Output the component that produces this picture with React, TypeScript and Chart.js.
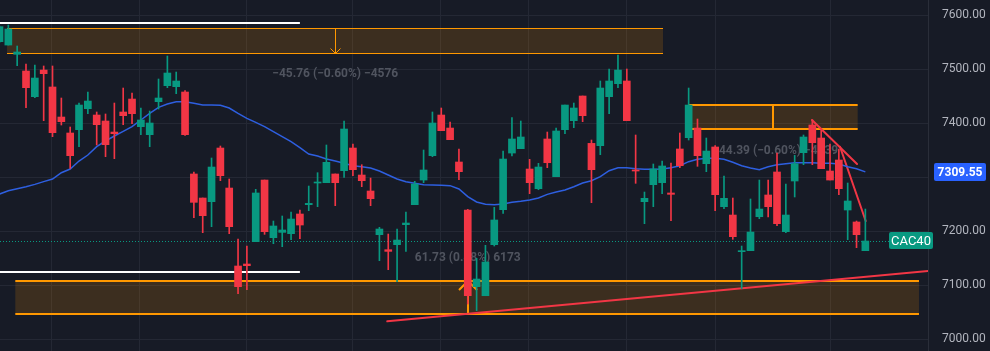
import { useEffect, useRef } from "react";
import { Chart, registerables } from "chart.js";

Chart.register(...registerables);

// ---------- DATA ----------
const symbol = "CAC40";

const opens = [
  7550.6, 7544.4, 7527.2, 7496.3, 7448.8, 7498.1, 7466.7, 7411.1, 7381.5, 7387.7,
  7426.5, 7414.8, 7403.7, 7383.3, 7420.4, 7444.4, 7393.2, 7378.4, 7439.5, 7469.1,
  7467.3, 7457.4, 7305.6, 7261.1, 7254.3, 7353.7, 7279.6, 7135.2, 7138.9, 7180.3,
  7294.4, 7187.7, 7197.5, 7195.1, 7231.5, 7248.8, 7288.9, 7289.5, 7305.6, 7311.7,
  7353.7, 7303.7, 7274.1, 7193.2, 7165.4, 7174.7, 7211.7, 7248.8, 7294.4, 7339.5,
  7414.8, 7390.7, 7327.8, 7238.9, 7096.9, 7080.2, 7174.7, 7239.5, 7344.4, 7352.5,
  7314.8, 7278.4, 7370.4, 7300.6, 7387.7, 7404.3, 7450.0, 7362.3, 7358.0, 7448.8,
  7472.8, 7477.8, 7313.0, 7254.3, 7285.8, 7289.5, 7270.4, 7351.9, 7372.8, 7390.7,
  7324.7, 7355.6, 7245.1, 7229.6, 7161.7, 7163.6, 7226.5, 7266.7, 7309.3, 7198.8,
  7292.6, 7345.1, 7396.3, 7372.2, 7311.1, 7331.5, 7238.9, 7216.7, 7163.6,
];

const highs = [
  7579.6, 7581.5, 7542.6, 7509.3, 7507.4, 7505.6, 7505.6, 7446.3, 7392.6, 7437.0,
  7457.4, 7420.4, 7416.7, 7437.0, 7464.8, 7455.6, 7427.8, 7422.2, 7481.5, 7524.1,
  7494.4, 7459.9, 7309.3, 7261.1, 7335.2, 7357.4, 7296.3, 7185.2, 7172.2, 7277.2,
  7294.4, 7218.5, 7227.8, 7235.2, 7238.9, 7283.3, 7308.0, 7359.3, 7305.6, 7403.7,
  7361.1, 7322.8, 7298.1, 7206.8, 7194.4, 7203.7, 7235.2, 7292.0, 7350.0, 7420.4,
  7427.8, 7401.9, 7351.9, 7240.1, 7149.4, 7173.5, 7243.8, 7348.1, 7409.9, 7403.7,
  7332.7, 7325.3, 7383.3, 7390.7, 7433.3, 7437.0, 7450.0, 7368.5, 7477.8, 7500.0,
  7525.9, 7500.0, 7377.8, 7272.2, 7324.1, 7329.6, 7325.9, 7381.5, 7464.8, 7407.4,
  7372.2, 7358.0, 7301.9, 7261.1, 7172.2, 7259.3, 7294.4, 7294.4, 7344.4, 7287.0,
  7340.1, 7377.8, 7405.6, 7387.0, 7361.1, 7351.9, 7288.9, 7218.5, 7240.7,
];

const lows = [
  7549.4, 7544.4, 7506.2, 7428.4, 7446.9, 7404.3, 7374.7, 7396.3, 7316.0, 7356.2,
  7417.3, 7359.3, 7337.7, 7334.0, 7396.9, 7398.8, 7378.4, 7356.2, 7425.9, 7465.4,
  7454.3, 7377.2, 7224.7, 7196.9, 7208.0, 7293.2, 7195.1, 7084.0, 7091.4, 7180.3,
  7193.8, 7176.5, 7171.0, 7184.0, 7185.8, 7237.7, 7245.1, 7289.5, 7246.9, 7299.4,
  7302.5, 7282.1, 7246.9, 7145.1, 7128.4, 7106.2, 7162.3, 7248.8, 7289.5, 7337.7,
  7385.8, 7369.1, 7295.1, 7064.8, 7052.5, 7080.2, 7172.2, 7232.7, 7338.9, 7352.5,
  7269.1, 7276.5, 7317.3, 7300.6, 7380.2, 7391.4, 7402.5, 7252.5, 7341.4, 7417.3,
  7465.4, 7404.3, 7288.3, 7213.6, 7245.1, 7269.1, 7219.1, 7317.3, 7368.5, 7319.8,
  7309.9, 7237.7, 7241.4, 7184.6, 7093.2, 7163.6, 7222.8, 7225.9, 7209.9, 7196.9,
  7263.0, 7322.8, 7322.8, 7315.4, 7294.4, 7267.3, 7184.0, 7169.1, 7163.6,
];

const closes = [
  7578.4, 7574.1, 7531.5, 7465.4, 7483.3, 7491.4, 7382.1, 7402.5, 7339.5, 7433.3,
  7440.7, 7396.9, 7359.9, 7380.2, 7413.6, 7417.3, 7405.6, 7400.0, 7446.3, 7492.6,
  7477.8, 7378.4, 7253.1, 7228.4, 7318.5, 7302.5, 7208.0, 7096.9, 7135.8, 7270.4,
  7198.8, 7209.3, 7201.9, 7222.2, 7211.1, 7251.2, 7290.7, 7327.2, 7289.5, 7388.9,
  7313.6, 7293.2, 7259.9, 7203.7, 7162.3, 7183.3, 7214.8, 7287.0, 7313.0, 7400.0,
  7385.8, 7369.1, 7309.9, 7080.2, 7111.1, 7142.6, 7220.4, 7333.3, 7370.4, 7374.1,
  7289.5, 7318.5, 7326.5, 7385.2, 7433.3, 7427.8, 7413.6, 7313.6, 7464.8, 7477.8,
  7498.1, 7404.3, 7311.1, 7260.5, 7314.8, 7320.4, 7267.9, 7321.0, 7433.3, 7339.5,
  7348.1, 7267.3, 7260.5, 7189.5, 7163.6, 7198.1, 7240.7, 7245.1, 7213.6, 7229.6,
  7324.7, 7374.1, 7363.6, 7315.4, 7294.4, 7278.4, 7255.6, 7193.2, 7181.5,
];

const movingAverage = [
  7268.5, 7274.7, 7278.4, 7282.1, 7286.4, 7291.4, 7296.3, 7308.0, 7314.8, 7329.6,
  7340.7, 7356.2, 7366.7, 7375.9, 7384.6, 7393.2, 7405.6, 7417.9, 7429.0, 7435.2,
  7439.5, 7439.5, 7436.4, 7433.3, 7433.3, 7432.7, 7427.8, 7417.9, 7408.6, 7401.2,
  7393.2, 7384.0, 7374.7, 7365.4, 7354.3, 7342.6, 7338.9, 7333.3, 7329.6, 7325.3,
  7321.0, 7319.1, 7316.7, 7311.1, 7303.7, 7296.3, 7291.4, 7288.3, 7285.8, 7285.2,
  7284.6, 7284.0, 7277.8, 7263.6, 7253.7, 7249.4, 7248.8, 7250.0, 7253.1, 7254.9,
  7257.4, 7261.1, 7267.9, 7272.2, 7275.9, 7282.1, 7288.9, 7293.2, 7300.6, 7311.7,
  7317.3, 7317.3, 7315.4, 7314.2, 7314.2, 7314.8, 7317.3, 7321.0, 7328.4, 7332.7,
  7334.6, 7334.6, 7332.7, 7327.2, 7321.0, 7316.7, 7313.6, 7319.1, 7322.8, 7324.7,
  7326.5, 7326.5, 7326.5, 7325.3, 7325.3, 7324.1, 7319.1, 7315.4, 7309.55,
];

const priceTicks = [7000, 7100, 7200, 7300, 7400, 7500, 7600];
// time grid positions (in bar-index units)
const timeGrid = [5.94, 15.9, 27.9, 40.0, 49.97, 59.93, 71.0, 81.0, 94.1];

// drawings, in (bar index, price) units
const rangeBoxes = [
  { x0: 0.85, x1: 75.1, top: 7575.3, bottom: 7529.0, arrowX: 38.0, dir: "down", head: 5, lw: 1, label: "\u221245.76 (\u22120.60%) \u22124576", labelX: 38.0, labelPrice: 7490.7 },
  { x0: 77.96, x1: 97.13, top: 7433.3, bottom: 7388.9, arrowX: 87.55, dir: "down", head: 0, lw: 2, label: "\u221244.39 (\u22120.60%) \u22124439", labelX: 87.8, labelPrice: 7348.1 },
  { x0: 1.79, x1: 104.07, top: 7106.8, bottom: 7046.9, arrowX: 53.0, dir: "up", head: 9, lw: 2, label: "61.73 (0.88%) 6173", labelX: 53.0, labelPrice: 7150.0 },
];
const trendLines = [
  { x0: 43.89, p0: 7032.8, x1: 105.1, p1: 7125.9 },
  { x0: 91.96, p0: 7405.6, x1: 97.06, p1: 7324.1 },
  { x0: 95.13, p0: 7356.1, x1: 98.04, p1: 7218.5 },
];
const whiteLines = [
  { price: 7584.6, x0: -2, x1: 34.0 },
  { price: 7123.5, x0: -2, x1: 34.0 },
];

// ---------- STYLE ----------
const BG = "#171b26";
const GRID = "#242834";
const UP = "#089981";
const DOWN = "#f23645";
const MA_COLOR = "#2e5fe0";
const ORANGE = "#ff9800";
const BOX_FILL = "rgba(255,152,0,0.16)";
const LABEL_GRAY = "#50545f";
const AXIS_TEXT = "#b2b5be";
const FONT = "Roboto, 'Liberation Sans', sans-serif";

export default function App() {
  const ref = useRef<HTMLCanvasElement>(null);

  useEffect(() => {
    const canvas = ref.current;
    if (!canvas) return;
    const idx = opens.map((_, i) => i);
    const colors = idx.map((i) => (closes[i] >= opens[i] ? UP : DOWN));
    const lastClose = closes[closes.length - 1];
    const lastMA = movingAverage[movingAverage.length - 1];

    const overlay = {
      id: "overlay",
      beforeDraw(chart: any) {
        const { ctx, width, height } = chart;
        ctx.save();
        ctx.fillStyle = BG;
        ctx.fillRect(0, 0, width, height);
        ctx.restore();
      },
      beforeDatasetsDraw(chart: any) {
        const { ctx, chartArea: ca } = chart;
        const xs = chart.scales.x;
        const ys = chart.scales.y;
        const px = (v: number) => xs.getPixelForValue(v);
        const py = (v: number) => ys.getPixelForValue(v);
        const crisp = (v: number, lw: number) => (lw % 2 === 1 ? Math.round(v) + 0.5 : Math.round(v));
        const seg = (x0: number, y0: number, x1: number, y1: number) => {
          ctx.beginPath();
          ctx.moveTo(x0, y0);
          ctx.lineTo(x1, y1);
          ctx.stroke();
        };
        ctx.save();
        ctx.beginPath();
        ctx.rect(ca.left, ca.top, ca.right - ca.left, ca.bottom - ca.top);
        ctx.clip();

        // last price dotted line
        ctx.strokeStyle = UP;
        ctx.lineWidth = 1;
        ctx.setLineDash([1, 2]);
        const yl = crisp(py(lastClose), 1);
        seg(ca.left, yl, ca.right, yl);
        ctx.setLineDash([]);

        // white horizontal lines
        ctx.strokeStyle = "#ffffff";
        ctx.lineWidth = 2;
        for (const w of whiteLines) {
          const yy = Math.round(py(w.price));
          seg(px(w.x0), yy, px(w.x1), yy);
        }

        // range boxes
        for (const b of rangeBoxes) {
          const l = px(b.x0);
          const r = px(b.x1);
          const t = crisp(py(b.top), b.lw);
          const bt = crisp(py(b.bottom), b.lw);
          ctx.fillStyle = BOX_FILL;
          ctx.fillRect(l, t, r - l, bt - t);
          ctx.strokeStyle = ORANGE;
          ctx.lineWidth = b.lw;
          seg(l, t, r, t);
          seg(l, bt, r, bt);
          const ax = crisp(px(b.arrowX), b.lw);
          seg(ax, t, ax, bt);
          if (b.head > 0) {
            const h = b.head;
            ctx.beginPath();
            if (b.dir === "down") {
              ctx.moveTo(ax - h, bt - h);
              ctx.lineTo(ax, bt);
              ctx.lineTo(ax + h, bt - h);
            } else {
              ctx.moveTo(ax - h, t + h);
              ctx.lineTo(ax, t);
              ctx.lineTo(ax + h, t + h);
            }
            ctx.stroke();
          }
          ctx.fillStyle = LABEL_GRAY;
          ctx.font = `bold 12px ${FONT}`;
          ctx.textAlign = "center";
          ctx.textBaseline = "middle";
          ctx.fillText(b.label, px(b.labelX), py(b.labelPrice));
        }

        // trend lines
        ctx.strokeStyle = DOWN;
        ctx.lineWidth = 2;
        ctx.lineCap = "round";
        for (const tl of trendLines) {
          seg(px(tl.x0), py(tl.p0), px(tl.x1), py(tl.p1));
        }
        ctx.restore();
      },
      afterDraw(chart: any) {
        const { ctx, chartArea: ca } = chart;
        const ys = chart.scales.y;
        ctx.save();
        // MA value label on the price axis
        const ym = ys.getPixelForValue(lastMA);
        ctx.fillStyle = "#2962ff";
        ctx.beginPath();
        (ctx as any).roundRect(ca.right + 6, Math.round(ym) - 9, 52, 18, 2);
        ctx.fill();
        ctx.fillStyle = "#ffffff";
        ctx.font = `bold 12px ${FONT}`;
        ctx.textAlign = "center";
        ctx.textBaseline = "middle";
        ctx.fillText(lastMA.toFixed(2), ca.right + 32, Math.round(ym) + 0.5);

        // symbol label
        const yc = ys.getPixelForValue(lastClose);
        ctx.fillStyle = UP;
        ctx.beginPath();
        (ctx as any).roundRect(ca.right - 39, Math.round(yc) - 9, 44, 17, 2);
        ctx.fill();
        ctx.fillStyle = "#ffffff";
        ctx.font = `13px ${FONT}`;
        ctx.textAlign = "center";
        ctx.fillText(symbol, ca.right - 17, Math.round(yc) + 0.5);
        ctx.restore();
      },
    };

    const chart = new Chart(canvas, {
      type: "line",
      data: {
        datasets: [
          {
            type: "line",
            label: "MA",
            data: idx.map((i) => ({ x: i, y: movingAverage[i] })),
            borderColor: MA_COLOR,
            borderWidth: 1.5,
            pointRadius: 0,
            tension: 0,
            order: 3,
          } as any,
          {
            type: "bar",
            label: "wicks",
            data: idx.map((i) => ({ x: i, y: [lows[i], highs[i]] })),
            backgroundColor: colors,
            barThickness: 1,
            grouped: false,
            order: 2,
          } as any,
          {
            type: "bar",
            label: "bodies",
            data: idx.map((i) => ({ x: i, y: [opens[i], closes[i]] })),
            backgroundColor: colors,
            barThickness: 7,
            minBarLength: 1,
            grouped: false,
            order: 1,
          } as any,
        ],
      },
      options: {
        animation: false,
        responsive: false,
        devicePixelRatio: 1,
        layout: { padding: 0 },
        plugins: { legend: { display: false }, tooltip: { enabled: false } },
        scales: {
          x: {
            type: "linear",
            min: 0.0566,
            max: 105.09,
            offset: false,
            grid: { color: GRID, drawTicks: false, offset: false },
            border: { display: false },
            ticks: { display: false },
            afterBuildTicks: (s: any) => {
              s.ticks = timeGrid.map((v) => ({ value: v }));
            },
            afterFit: (s: any) => {
              s.height = 0;
            },
          },
          y: {
            type: "linear",
            position: "right",
            min: 6977.8,
            max: 7627.8,
            beginAtZero: false,
            grid: { color: GRID, drawTicks: false },
            border: { display: true, color: "#2a2e39" },
            ticks: {
              color: AXIS_TEXT,
              font: { size: 12, family: FONT },
              padding: 14,
              callback: (v: any) => Number(v).toFixed(2),
            },
            afterBuildTicks: (s: any) => {
              s.ticks = priceTicks.map((v) => ({ value: v }));
            },
            afterFit: (s: any) => {
              s.width = 62;
              s.paddingTop = 0;
              s.paddingBottom = 0;
            },
          },
        },
      } as any,
      plugins: [overlay],
    });
    return () => chart.destroy();
  }, []);

  return (
    <div style={{ position: "fixed", left: 0, top: 0, width: 990, height: 351 }}>
      <canvas ref={ref} width={990} height={351} style={{ display: "block" }} />
    </div>
  );
}
